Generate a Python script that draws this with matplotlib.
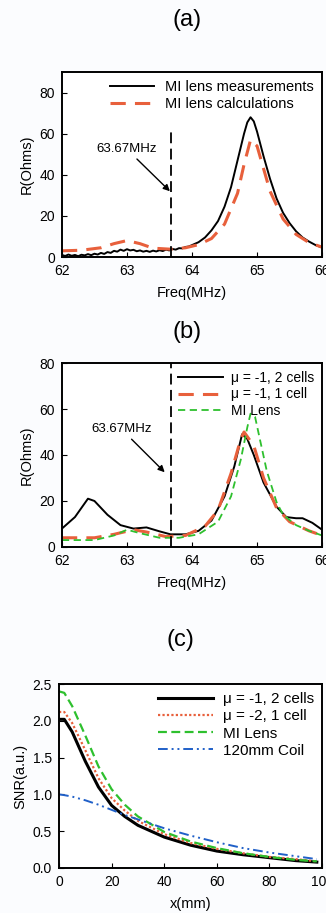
import matplotlib.pyplot as plt

plt.rcParams['font.family'] = ['Liberation Sans', 'DejaVu Sans']

# (a) MI lens: measured vs calculated resistance
fa_meas = [62.00, 62.05, 62.10, 62.15, 62.20, 62.25, 62.30, 62.35, 62.40, 62.45,
           62.50, 62.55, 62.60, 62.65, 62.70, 62.75, 62.80, 62.85, 62.90, 62.95,
           63.00, 63.05, 63.10, 63.15, 63.20, 63.25, 63.30, 63.35, 63.40, 63.45,
           63.50, 63.55, 63.60, 63.65, 63.70, 63.75, 63.80, 63.85, 63.90, 63.95,
           64.00, 64.10, 64.20, 64.30, 64.40, 64.50, 64.60, 64.70, 64.80, 64.85,
           64.90, 64.95, 65.00, 65.10, 65.20, 65.30, 65.40, 65.50, 65.60, 65.70,
           65.80, 65.90, 66.00]
ra_meas = [1.0, 0.5, 1.2, 0.6, 1.0, 0.4, 1.1, 0.8, 1.4, 0.9,
           1.6, 1.2, 2.0, 1.5, 2.4, 2.0, 3.0, 2.6, 3.6, 3.0,
           3.8, 3.2, 3.5, 2.8, 3.2, 2.6, 3.0, 2.5, 3.1, 2.7,
           3.3, 2.9, 3.6, 3.2, 3.9, 3.6, 4.3, 4.2, 4.9, 5.1,
           5.8, 7.2, 9.5, 13.0, 17.5, 24.5, 34.0, 47.0, 60.0, 65.5,
           68.0, 66.0, 61.0, 49.0, 38.0, 28.5, 21.5, 16.5, 12.5, 9.5,
           7.5, 5.8, 4.6]
fa_calc = [62.0, 62.3, 62.6, 62.8, 63.0, 63.2, 63.4, 63.67, 63.9, 64.1, 64.3,
           64.5, 64.7, 64.8, 64.9, 65.0, 65.1, 65.2, 65.4, 65.6, 65.8, 66.0]
ra_calc = [3.0, 3.3, 4.5, 6.5, 8.0, 6.5, 4.3, 3.8, 4.5, 6.0, 9.0,
           16.0, 31.0, 45.0, 57.0, 54.0, 43.0, 32.0, 18.5, 11.0, 7.0, 4.8]

# (b) metamaterial lens variants
fb_2c = [62.0, 62.2, 62.4, 62.5, 62.7, 62.9, 63.1, 63.3, 63.5, 63.67, 63.9,
         64.1, 64.3, 64.5, 64.65, 64.77, 64.85, 64.95, 65.1, 65.3, 65.45, 65.6,
         65.7, 65.85, 66.0]
rb_2c = [8.0, 13.0, 21.0, 20.0, 14.0, 9.5, 8.0, 8.5, 6.8, 5.5, 5.5,
         7.0, 11.5, 22.0, 35.0, 49.0, 47.0, 40.0, 28.0, 17.5, 13.0, 12.5,
         12.5, 10.5, 7.5]
fb_1c = [62.0, 62.5, 62.8, 63.1, 63.3, 63.6, 63.9, 64.2, 64.4, 64.6, 64.75,
         64.8, 64.95, 65.1, 65.3, 65.5, 65.8, 66.0]
rb_1c = [4.0, 4.0, 5.5, 7.5, 6.5, 4.5, 5.0, 9.0, 16.0, 32.0, 47.0,
         50.0, 44.0, 30.0, 17.0, 11.0, 7.0, 5.0]
fb_mi = [62.0, 62.5, 62.8, 63.0, 63.2, 63.5, 63.8, 64.1, 64.4, 64.6, 64.75,
         64.85, 64.9, 64.97, 65.05, 65.15, 65.3, 65.4, 65.6, 65.8, 66.0]
rb_mi = [3.0, 3.0, 5.0, 7.5, 6.0, 4.0, 4.0, 5.5, 11.0, 22.0, 38.0,
         52.0, 58.0, 56.5, 46.0, 33.0, 19.5, 14.0, 9.5, 7.0, 5.0]

# (c) SNR vs distance
xc = [0, 2, 5, 10, 15, 20, 25, 30, 40, 50, 60, 70, 80, 90, 98]
snr_2c = [2.02, 2.02, 1.85, 1.45, 1.10, 0.85, 0.70, 0.58, 0.42, 0.31, 0.23, 0.18, 0.14, 0.10, 0.08]
snr_1c = [2.12, 2.12, 1.97, 1.60, 1.22, 0.95, 0.78, 0.64, 0.46, 0.34, 0.26, 0.20, 0.15, 0.12, 0.09]
snr_mi = [2.40, 2.38, 2.20, 1.80, 1.38, 1.07, 0.86, 0.70, 0.49, 0.36, 0.27, 0.20, 0.15, 0.11, 0.09]
snr_coil = [1.00, 0.99, 0.97, 0.92, 0.86, 0.79, 0.72, 0.66, 0.54, 0.44, 0.35, 0.27, 0.21, 0.16, 0.12]

red = '#e8603c'
green = '#2ec02e'
blue = '#2060c8'
bg = '#fbfcfe'

fig = plt.figure(figsize=(3.26, 9.13), dpi=100, facecolor=bg)
ax1 = fig.add_axes([0.190, 0.7185, 0.798, 0.2026])
ax2 = fig.add_axes([0.190, 0.4009, 0.798, 0.2015])
ax3 = fig.add_axes([0.181, 0.0493, 0.807, 0.2015])

for ax in (ax1, ax2, ax3):
    ax.set_facecolor('white')
    ax.tick_params(direction='in', labelsize=10, length=3.5, pad=5)
    for s in ax.spines.values():
        s.set_linewidth(1.4)

leg_kw = dict(loc='upper right', frameon=False,
              borderaxespad=0.25, labelspacing=0.2, borderpad=0.3)

# panel a
ax1.plot(fa_meas, ra_meas, color='black', lw=1.4, label='MI lens measurements')
ax1.plot(fa_calc, ra_calc, color=red, lw=2.2, ls=(0, (5, 3)), label='MI lens calculations')
ax1.plot([63.67, 63.67], [0, 62], color='black', lw=1.3, ls=(0, (6, 3)))
ax1.annotate('63.67MHz', xy=(63.66, 32), xytext=(63.0, 49.5), fontsize=9.5,
             ha='center', va='bottom',
             arrowprops=dict(arrowstyle='-|>', color='black', lw=1, shrinkA=1, shrinkB=0))
ax1.set_xlim(62, 66)
ax1.set_ylim(0, 90)
ax1.set_yticks([0, 20, 40, 60, 80])
ax1.set_xticks([62, 63, 64, 65, 66])
ax1.set_ylabel('R(Ohms)', fontsize=10.5, labelpad=4)
ax1.set_xlabel('Freq(MHz)', fontsize=10.5, labelpad=6)
ax1.legend(fontsize=10.5, handlelength=3.0, handletextpad=0.8, **leg_kw)

# panel b
ax2.plot(fb_2c, rb_2c, color='black', lw=1.4, label=u'\u03bc = -1, 2 cells')
ax2.plot(fb_1c, rb_1c, color=red, lw=2.2, ls=(0, (5, 3)), label=u'\u03bc = -1, 1 cell')
ax2.plot(fb_mi, rb_mi, color=green, lw=1.3, ls=(0, (4, 2.5)), label='MI Lens')
ax2.axvline(63.67, color='black', lw=1.3, ls=(0, (6, 3)))
ax2.annotate('63.67MHz', xy=(63.58, 32.5), xytext=(62.92, 48.5), fontsize=9.5,
             ha='center', va='bottom',
             arrowprops=dict(arrowstyle='-|>', color='black', lw=1, shrinkA=1, shrinkB=0))
ax2.set_xlim(62, 66)
ax2.set_ylim(0, 80)
ax2.set_yticks([0, 20, 40, 60, 80])
ax2.set_xticks([62, 63, 64, 65, 66])
ax2.set_ylabel('R(Ohms)', fontsize=10.5, labelpad=4)
ax2.set_xlabel('Freq(MHz)', fontsize=10.5, labelpad=6)
ax2.legend(fontsize=10, handlelength=3.2, handletextpad=0.6, **leg_kw)

# panel c
ax3.plot(xc, snr_2c, color='black', lw=2.2, label=u'\u03bc = -1, 2 cells')
ax3.plot(xc, snr_1c, color=red, lw=1.6, ls=(0, (1, 1)), label=u'\u03bc = -2, 1 cell')
ax3.plot(xc, snr_mi, color=green, lw=1.6, ls=(0, (4, 2)), label='MI Lens')
ax3.plot(xc, snr_coil, color=blue, lw=1.4, ls=(0, (5, 2, 1, 2, 1, 2)), label='120mm Coil')
ax3.set_xlim(0, 100)
ax3.set_ylim(0, 2.5)
ax3.set_yticks([0.0, 0.5, 1.0, 1.5, 2.0, 2.5])
ax3.set_yticklabels(['0.0', '0.5', '1.0', '1.5', '2.0', '2.5'])
ax3.set_xticks([0, 20, 40, 60, 80, 100])
ax3.set_ylabel('SNR(a.u.)', fontsize=10.5, labelpad=4)
ax3.set_xlabel('x(mm)', fontsize=10.5, labelpad=6)
ax3.legend(fontsize=11, handlelength=3.6, handletextpad=0.6, **leg_kw)

fig.text(0.574, 1 - 20 / 913, '(a)', fontsize=17, ha='center', va='center')
fig.text(0.574, 1 - 332 / 913, '(b)', fontsize=17, ha='center', va='center')
fig.text(0.552, 1 - 640 / 913, '(c)', fontsize=17, ha='center', va='center')

fig.savefig('out.png', dpi=100, facecolor=bg)
